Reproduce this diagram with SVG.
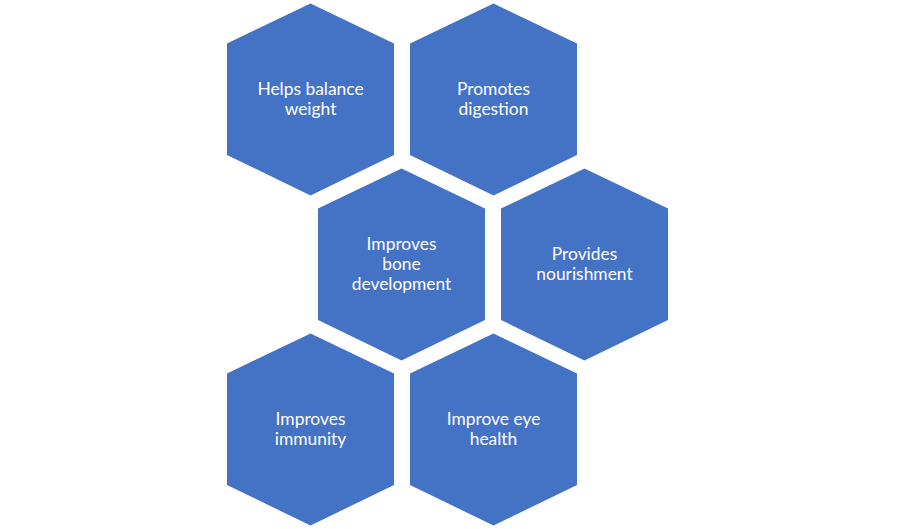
<svg xmlns="http://www.w3.org/2000/svg" width="900" height="529" viewBox="0 0 900 529">
<style>
.hex{fill:#4472C4;stroke:none}
.t{font-family:Lato,"Open Sans","Liberation Sans",sans-serif;font-size:17.4px;fill:#ffffff;text-anchor:middle}
</style>
<defs>
<polygon id="hx" points="0,0 83.5,40 83.5,151.5 0,192 -83.5,151.5 -83.5,40"/>
</defs>
<rect width="900" height="529" fill="#ffffff"/>
<g id="connectors"/>
<g id="n1" transform="translate(310.5,3.5)">
<use href="#hx" class="hex"/>
<text class="t"><tspan x="0" y="91.5">Helps balance</tspan><tspan x="0" y="111.5">weight</tspan></text>
</g>
<g id="n2" transform="translate(493.5,3.5)">
<use href="#hx" class="hex"/>
<text class="t"><tspan x="0" y="91.5">Promotes</tspan><tspan x="0" y="111.5">digestion</tspan></text>
</g>
<g id="n3" transform="translate(401.5,168.5)">
<use href="#hx" class="hex"/>
<text class="t"><tspan x="0" y="81.5">Improves</tspan><tspan x="0" y="101.5">bone</tspan><tspan x="0" y="121.5">development</tspan></text>
</g>
<g id="n4" transform="translate(584.5,168.5)">
<use href="#hx" class="hex"/>
<text class="t"><tspan x="0" y="91.5">Provides</tspan><tspan x="0" y="111.5">nourishment</tspan></text>
</g>
<g id="n5" transform="translate(310.5,333.5)">
<use href="#hx" class="hex"/>
<text class="t"><tspan x="0" y="91.5">Improves</tspan><tspan x="0" y="111.5">immunity</tspan></text>
</g>
<g id="n6" transform="translate(493.5,333.5)">
<use href="#hx" class="hex"/>
<text class="t"><tspan x="0" y="91.5">Improve eye</tspan><tspan x="0" y="111.5">health</tspan></text>
</g>
</svg>
